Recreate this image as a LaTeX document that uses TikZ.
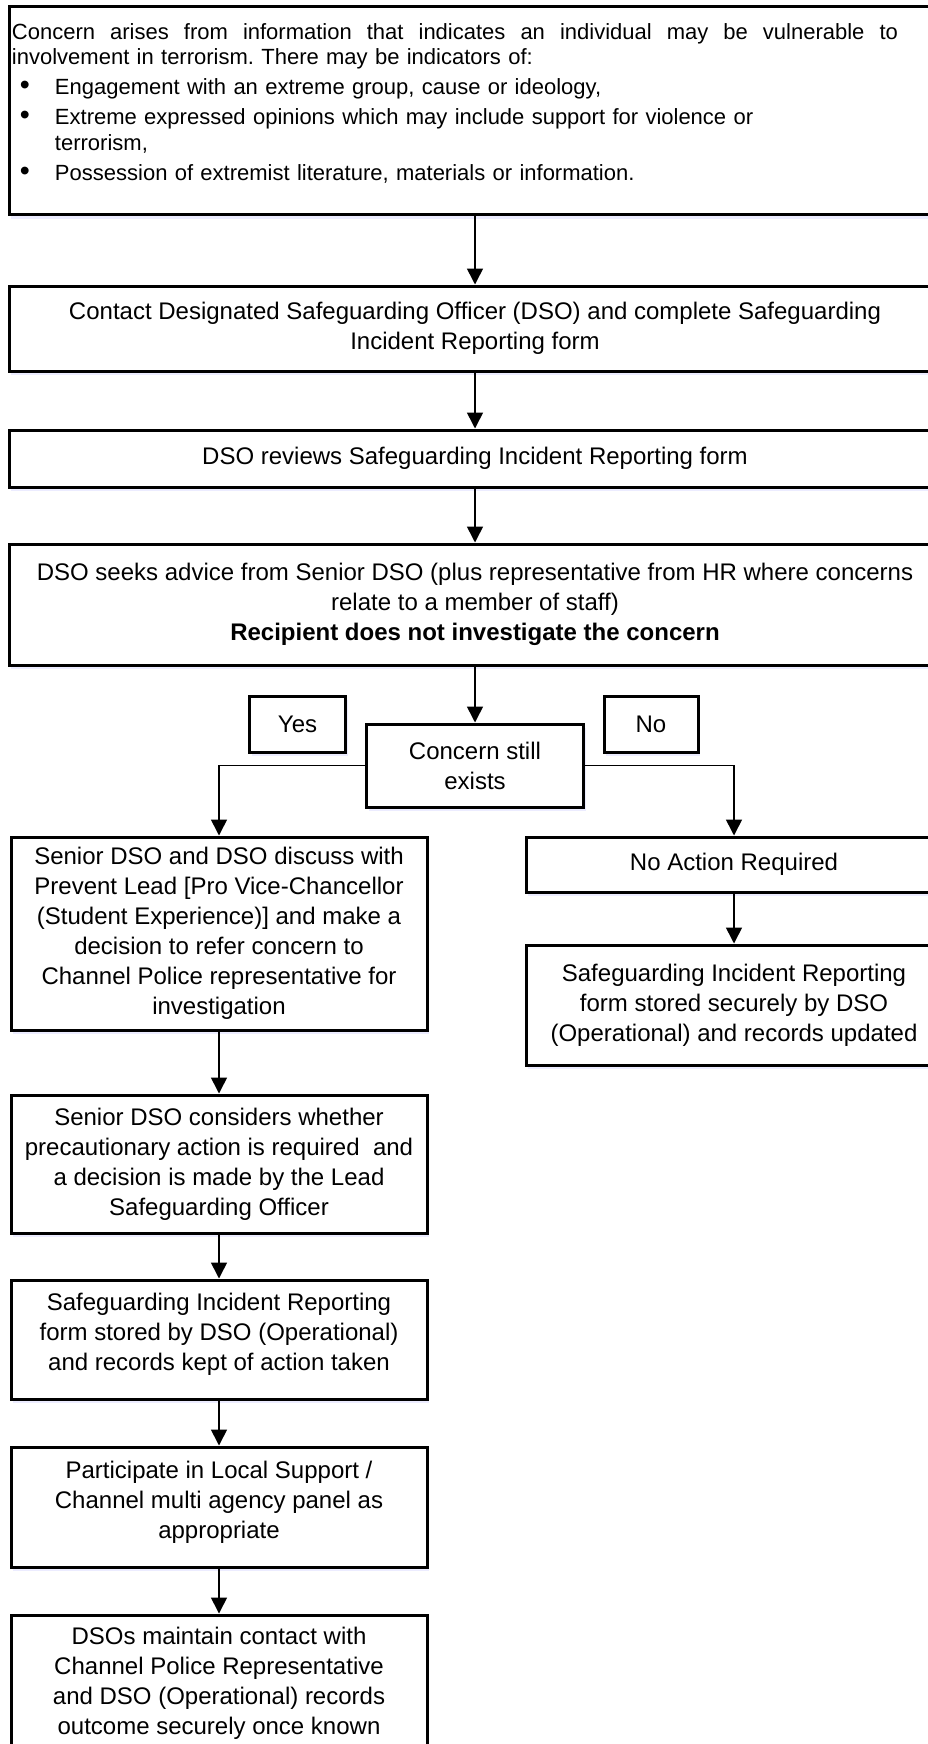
\documentclass[tikz,border=0pt]{standalone}
\usepackage{fontspec}
\setmainfont{Liberation Sans}
\usetikzlibrary{shapes,arrows.meta,positioning,shadows}
\tikzset{basic/.style={draw,line width=3pt,fill=white,drop shadow={shadow xshift=2pt,shadow yshift=-4pt,fill=blue!30,opacity=0.25}}}
\tikzset{intro/.style={basic,text width=926pt,inner xsep=3pt,inner ysep=0pt,minimum height=208pt,font=\fontsize{22}{25.5}\selectfont}}
\tikzset{flowbox/.style={basic,align=center,inner sep=2pt,font=\fontsize{24}{30}\selectfont}}
\tikzset{wide/.style={flowbox,minimum width=932pt}}
\tikzset{side/.style={flowbox,minimum width=416pt}}
\tikzset{answer/.style={flowbox,minimum width=96pt,minimum height=56pt}}
\tikzset{arrow/.style={draw,line width=1.6pt,-{Triangle[length=16pt,width=16pt]}}}
\newcommand{\bul}[1]{\par\vspace{4.5pt}\hangindent=43pt\hangafter=1\noindent\hspace*{8pt}\makebox[35pt][l]{\scalebox{1.3}{\textbullet}}#1}
\frenchspacing

\begin{document}
\begin{tikzpicture}[x=1pt,y=-1pt]
    \useasboundingbox (0,0) rectangle (928,1744);
    \clip (0,0) rectangle (928,1744);

    \node[intro] (start) at (475,111) {\noindent\parbox{886pt}{{\spaceskip=0.278em plus 1fil Concern arises from information that indicates an individual may be vulnerable to}\linebreak involvement in terrorism. There may be indicators of:
        \bul{Engagement with an extreme group, cause or ideology,}
        \bul{Extreme expressed opinions which may include support for violence or\\terrorism,}
        \bul{Possession of extremist literature, materials or information.}\par\kern16pt}};
    \node[wide,minimum height=85pt] (contact) at (475,328.5) {Contact Designated Safeguarding Officer (DSO) and complete Safeguarding\\Incident Reporting form};
    \node[wide,minimum height=57pt] (review) at (475,458.5) {DSO reviews Safeguarding Incident Reporting form};
    \node[wide,minimum height=121pt] (advice) at (475,604.5) {DSO seeks advice from Senior DSO (plus representative from HR where concerns\\relate to a member of staff)\\\textbf{Recipient does not investigate the concern}};
    \node[flowbox,minimum width=217pt,minimum height=83pt] (exists) at (475,765.5) {Concern still\\exists};
    \node[answer] (yes) at (297.5,724) {Yes};
    \node[answer,minimum width=94pt] (no) at (651,724) {No};

    \node[side,minimum height=193pt] (refer) at (219,933.5) {Senior DSO and DSO discuss with\\Prevent Lead [Pro Vice-Chancellor\\(Student Experience)] and make a\\decision to refer concern to\\Channel Police representative for\\investigation};
    \node[side,minimum height=55pt] (noact) at (734,864.5) {No Action Required};
    \node[side,minimum height=120pt] (stored) at (734,1005) {Safeguarding Incident Reporting\\form stored securely by DSO\\(Operational) and records updated};
    \node[side,minimum height=138pt] (precaution) at (219,1164) {Senior DSO considers whether\\precautionary action is required\ \ and\\a decision is made by the Lead\\Safeguarding Officer};
    \node[side,minimum height=119pt,text depth=16pt] (records) at (219,1339.5) {Safeguarding Incident Reporting\\form stored by DSO (Operational)\\and records kept of action taken};
    \node[side,minimum height=120pt,text depth=14pt] (panel) at (219,1507) {Participate in Local Support /\\Channel multi agency panel as\\appropriate};
    \node[side,minimum height=136pt] (outcome) at (219,1683) {DSOs maintain contact with\\Channel Police Representative\\and DSO (Operational) records\\outcome securely once known};

        \path[arrow] (start) -- (contact);
        \path[arrow] (contact) -- (review);
        \path[arrow] (review) -- (advice);
        \path[arrow] (advice) -- (exists);
        \path[arrow] (exists.west) -| (refer);
        \path[arrow] (exists.east) -| (noact);
        \path[arrow] (noact) -- (stored);
        \path[arrow] (refer) -- (precaution);
        \path[arrow] (precaution) -- (records);
        \path[arrow] (records) -- (panel);
        \path[arrow] (panel) -- (outcome);
\end{tikzpicture}
\end{document}
